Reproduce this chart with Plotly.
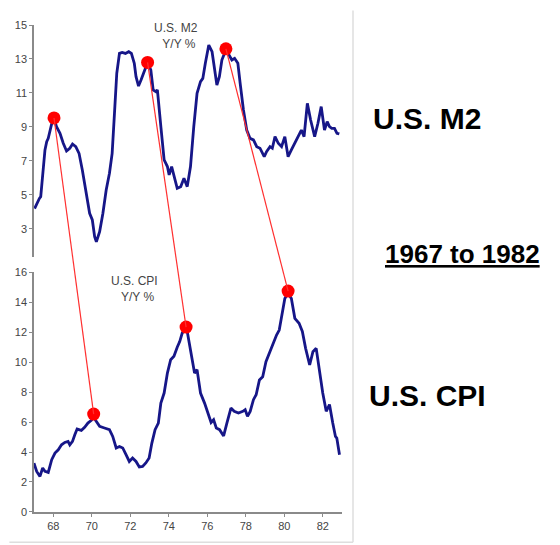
import plotly.graph_objects as go

# ---------------- data ----------------
m2_year = [67.03, 67.06, 67.28, 67.35, 67.57, 67.66, 67.74, 67.92, 68.04, 68.17, 68.35, 68.52, 68.69, 68.86,
           69.0, 69.17, 69.34, 69.51, 69.69, 69.89, 70.03, 70.15, 70.24, 70.41, 70.58, 70.75, 70.92,
           71.06, 71.18, 71.3, 71.44, 71.58, 71.75, 71.92, 72.06, 72.21, 72.3, 72.43, 72.56, 72.73,
           72.9, 73.07, 73.19, 73.33, 73.41, 73.59, 73.76, 73.93, 74.02, 74.15, 74.27, 74.44, 74.62,
           74.79, 74.96, 75.13, 75.3, 75.47, 75.65, 75.77, 75.9, 76.08, 76.25, 76.39, 76.5, 76.63,
           76.76, 76.97, 77.11, 77.28, 77.42, 77.59, 77.71, 77.88, 78.05, 78.22, 78.4, 78.57, 78.74,
           78.96, 79.08, 79.26, 79.38, 79.52, 79.69, 79.86, 80.03, 80.2, 80.37, 80.54, 80.72, 80.89,
           81.03, 81.2, 81.37, 81.58, 81.75, 81.92, 82.09, 82.23, 82.35, 82.47, 82.61, 82.74, 82.86]
m2_value = [4.2, 4.28, 4.8, 4.9, 7.65, 8.14, 8.33, 9.2, 9.5, 9.02, 8.63, 8.04, 7.59, 7.75,
            8.0, 7.84, 7.45, 6.47, 5.29, 3.92, 3.53, 2.55, 2.25, 2.84, 3.92, 5.29, 6.28,
            7.45, 9.8, 12.16, 13.33, 13.39, 13.33, 13.43, 13.33, 12.75, 11.96, 11.41, 11.76, 12.35,
            12.8, 12.35, 11.18, 11.08, 11.18, 9.02, 7.06, 6.67, 6.18, 6.67, 6.18, 5.39, 5.49,
            5.98, 5.49, 6.67, 9.02, 10.98, 11.67, 11.86, 12.75, 13.82, 13.43, 12.16, 11.47, 11.96,
            12.94, 13.55, 13.24, 12.94, 13.04, 12.75, 11.57, 10.0, 8.82, 8.33, 8.24, 7.84, 7.75,
            7.25, 7.55, 7.84, 7.75, 8.43, 8.04, 7.84, 8.43, 7.25, 7.65, 8.04, 8.53, 8.82,
            8.43, 10.39, 9.41, 8.43, 9.22, 10.2, 8.82, 9.31, 9.02, 8.92, 8.92, 8.63, 8.59]

cpi_year = [67.0, 67.14, 67.31, 67.45, 67.57, 67.74, 67.92, 68.09, 68.26, 68.43, 68.6, 68.77, 68.86,
            69.0, 69.12, 69.24, 69.46, 69.63, 69.8, 69.98, 70.1, 70.24, 70.41, 70.66, 70.92, 71.09,
            71.27, 71.44, 71.61, 71.78, 71.95, 72.12, 72.3, 72.47, 72.64, 72.81, 72.98, 73.12, 73.29,
            73.46, 73.59, 73.76, 73.93, 74.1, 74.27, 74.44, 74.57, 74.7, 74.88, 74.96, 75.1, 75.22,
            75.34, 75.47, 75.65, 75.86, 76.03, 76.2, 76.33, 76.47, 76.64, 76.85, 77.02, 77.23, 77.4,
            77.62, 77.85, 77.97, 78.09, 78.23, 78.4, 78.54, 78.71, 78.88, 79.05, 79.22, 79.39, 79.6,
            79.74, 79.91, 80.03, 80.2, 80.37, 80.55, 80.77, 80.94, 81.11, 81.32, 81.49, 81.66, 81.84,
            82.0, 82.18, 82.35, 82.52, 82.66, 82.73, 82.87]
cpi_value = [3.26, 2.7, 2.37, 2.93, 2.71, 2.64, 3.49, 3.93, 4.15, 4.48, 4.64, 4.71, 4.48,
             4.71, 5.15, 5.53, 5.44, 5.64, 5.93, 6.11, 6.3, 6.04, 5.71, 5.6, 5.49, 5.04,
             4.27, 4.37, 4.27, 3.82, 3.37, 3.6, 3.37, 3.0, 3.04, 3.27, 3.6, 4.58, 5.49,
             5.93, 7.26, 7.93, 9.26, 10.15, 10.38, 10.98, 11.36, 11.93, 12.2, 12.04, 11.04, 10.15,
             9.26, 9.49, 7.93, 7.26, 6.6, 5.97, 6.15, 5.6, 5.49, 5.07, 5.93, 6.93, 6.71,
             6.6, 6.71, 6.82, 6.38, 6.71, 7.49, 7.82, 8.8, 9.02, 10.02, 10.58, 11.24, 11.8,
             12.13, 13.46, 14.24, 14.6, 14.24, 12.91, 12.58, 12.04, 10.91, 9.8, 10.69, 10.91, 9.26,
             7.93, 6.71, 7.16, 5.93, 5.04, 4.93, 3.82]

m2_peak_year = [68.04, 72.9, 76.97]
m2_peak_value = [9.53, 12.8, 13.6]
cpi_peak_year = [70.1, 74.9, 80.2]
cpi_peak_value = [6.53, 12.33, 14.73]

x_ticks = [68, 70, 72, 74, 76, 78, 80, 82]
m2_ticks = [3, 5, 7, 9, 11, 13, 15]
cpi_ticks = [0, 2, 4, 6, 8, 10, 12, 14, 16]

# ---------------- layout constants ----------------
W, H = 560, 545
ML, MR, MT, MB = 34, 218, 25, 33
X_RANGE = [67, 83]
TOP_RANGE = [1.35, 15]
BOT_RANGE = [0, 16]
TOP_DOM = [0.5236, 1.0]
BOT_DOM = [0.0, 0.4928]

NAVY = "#161688"
AX = "#8a8a8a"
TXT = "#444444"
FONT = "Liberation Sans, Arial, sans-serif"

def px_x(v):
    return (v - X_RANGE[0]) / (X_RANGE[1] - X_RANGE[0])

def py(v, rng, dom):
    return dom[0] + (v - rng[0]) / (rng[1] - rng[0]) * (dom[1] - dom[0])

fig = go.Figure()

fig.add_trace(go.Scatter(x=m2_year, y=m2_value, mode="lines", xaxis="x2", yaxis="y2",
                         line=dict(color=NAVY, width=2.8), showlegend=False, hoverinfo="skip"))
fig.add_trace(go.Scatter(x=cpi_year, y=cpi_value, mode="lines", xaxis="x", yaxis="y",
                         line=dict(color=NAVY, width=2.8), showlegend=False, hoverinfo="skip"))

# red connector lines (computed from data via axis scales)
shapes = []
for xa, ya, xb, yb in zip(m2_peak_year, m2_peak_value, cpi_peak_year, cpi_peak_value):
    shapes.append(dict(type="line", xref="paper", yref="paper",
                       x0=px_x(xa), y0=py(ya, TOP_RANGE, TOP_DOM),
                       x1=px_x(xb), y1=py(yb, BOT_RANGE, BOT_DOM),
                       line=dict(color="#ff3030", width=1.2), layer="above"))

# light frame (right and bottom edge of original picture)
shapes.append(dict(type="line", xref="paper", yref="paper", x0=1.0357, x1=1.0357, y0=-0.062, y1=1.03,
                   line=dict(color="#dedede", width=1.5)))
shapes.append(dict(type="line", xref="paper", yref="paper", x0=-0.08, x1=1.0357, y0=-0.062, y1=-0.062,
                   line=dict(color="#dedede", width=1.5)))

fig.add_trace(go.Scatter(x=m2_peak_year, y=m2_peak_value, mode="markers", xaxis="x2", yaxis="y2",
                         marker=dict(color="#ff0000", size=13), showlegend=False, hoverinfo="skip"))
fig.add_trace(go.Scatter(x=cpi_peak_year, y=cpi_peak_value, mode="markers", xaxis="x", yaxis="y",
                         marker=dict(color="#ff0000", size=13), showlegend=False, hoverinfo="skip"))

annotations = [
    dict(text="U.S. M2<br>  Y/Y %", xref="x2", yref="y2", x=74.4, y=14.35, showarrow=False,
         font=dict(family=FONT, size=12, color=TXT), align="center"),
    dict(text="U.S. CPI<br>  Y/Y %", xref="x", yref="y", x=72.2, y=14.85, showarrow=False,
         font=dict(family=FONT, size=12, color=TXT), align="center"),
    dict(text="<b>U.S. M2</b>", xref="paper", yref="paper", x=1.276, y=0.809, showarrow=False,
         xanchor="center", yanchor="middle",
         font=dict(family=FONT, size=30, color="#000000")),
    dict(text="<b><u>1967 to 1982</u></b>", xref="paper", yref="paper", x=1.39, y=0.53, showarrow=False,
         xanchor="center", yanchor="middle",
         font=dict(family=FONT, size=26, color="#000000")),
    dict(text="<b>U.S. CPI</b>", xref="paper", yref="paper", x=1.279, y=0.240, showarrow=False,
         xanchor="center", yanchor="middle",
         font=dict(family=FONT, size=30, color="#000000")),
]

axis_common = dict(showgrid=False, zeroline=False, showline=True, linecolor=AX, linewidth=1.5,
                   ticks="outside", ticklen=3, tickcolor=AX,
                   tickfont=dict(family=FONT, size=11, color=TXT))

fig.update_layout(
    width=W, height=H,
    margin=dict(l=ML, r=MR, t=MT, b=MB),
    paper_bgcolor="white", plot_bgcolor="white",
    xaxis=dict(range=X_RANGE, domain=[0, 1], anchor="y", tickvals=x_ticks,
               ticktext=[str(t) for t in x_ticks], **axis_common),
    yaxis=dict(range=BOT_RANGE, domain=BOT_DOM, anchor="x", tickvals=cpi_ticks, **axis_common),
    xaxis2=dict(range=X_RANGE, domain=[0, 1], anchor="y2", visible=False, matches="x"),
    yaxis2=dict(range=TOP_RANGE, domain=TOP_DOM, anchor="x2", tickvals=m2_ticks, **axis_common),
    shapes=shapes,
    annotations=annotations,
)

fig.write_html("out.html")
